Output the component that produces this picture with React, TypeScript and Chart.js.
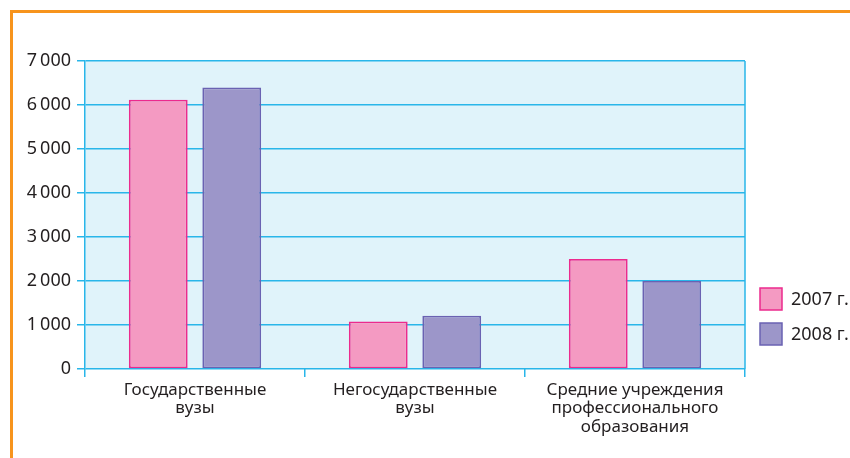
import React, { useEffect, useRef } from "react";
import { Chart, registerables } from "chart.js";

Chart.register(...registerables);

const categories: string[][] = [
  ["Государственные", "вузы"],
  ["Негосударственные", "вузы"],
  ["Средние учреждения", "профессионального", "образования"],
];
const series2007: number[] = [6120, 1080, 2500];
const series2008: number[] = [6400, 1210, 2000];
const seriesLabels: string[] = ["2007 г.", "2008 г."];
const yTicks: number[] = [0, 1000, 2000, 3000, 4000, 5000, 6000, 7000];

const FONT = "'Noto Sans', sans-serif";
const TEXT = "#231f20";
const GRID = "#29b6e9";
const PLOT_BG = "#e0f3fa";

const fmt = (v: number) => {
  if (v < 1000) return String(v);
  const s = String(v);
  return s.slice(0, s.length - 3) + "\u2009" + s.slice(s.length - 3);
};

const bgPlugin = {
  id: "plotBg",
  beforeDraw(chart: any) {
    const { ctx, chartArea } = chart;
    ctx.save();
    ctx.fillStyle = PLOT_BG;
    ctx.fillRect(chartArea.left, chartArea.top, chartArea.right - chartArea.left, chartArea.bottom - chartArea.top);
    ctx.restore();
  },
  afterDraw(chart: any) {
    const { ctx, chartArea } = chart;
    ctx.save();
    ctx.strokeStyle = GRID;
    ctx.lineWidth = 1.5;
    ctx.beginPath();
    ctx.moveTo(chartArea.right, chartArea.top);
    ctx.lineTo(chartArea.right, chartArea.bottom);
    ctx.stroke();
    // legend
    const x0 = chartArea.right + 15;
    let y0 = chartArea.bottom - 81;
    ctx.font = `18px ${FONT}`;
    ctx.textBaseline = "middle";
    ctx.textAlign = "left";
    chart.data.datasets.forEach((ds: any) => {
      ctx.fillStyle = ds.backgroundColor;
      ctx.fillRect(x0, y0, 22, 22);
      ctx.strokeStyle = ds.borderColor;
      ctx.lineWidth = 1.5;
      ctx.strokeRect(x0, y0, 22, 22);
      ctx.fillStyle = TEXT;
      ctx.fillText(ds.label, x0 + 31, y0 + 12);
      y0 += 35;
    });
    ctx.restore();
  },
};

export default function App() {
  const ref = useRef<HTMLCanvasElement>(null);
  useEffect(() => {
    if (!ref.current) return;
    const chart = new Chart(ref.current, {
      type: "bar",
      data: {
        labels: categories,
        datasets: [
          {
            label: seriesLabels[0],
            data: series2007,
            backgroundColor: "#f49ac2",
            borderColor: "#ec2a8d",
            borderWidth: 1.8,
            borderSkipped: false,
            categoryPercentage: 0.668,
            barPercentage: 0.8,
          },
          {
            label: seriesLabels[1],
            data: series2008,
            backgroundColor: "#9c96c9",
            borderColor: "#6a62b2",
            borderWidth: 1.8,
            borderSkipped: false,
            categoryPercentage: 0.668,
            barPercentage: 0.8,
          },
        ],
      },
      options: {
        animation: false,
        responsive: false,
        maintainAspectRatio: false,
        layout: { padding: { left: 0, top: 61, right: 105, bottom: 0 } },
        plugins: { legend: { display: false }, tooltip: { enabled: false } },
        scales: {
          x: {
            offset: true,
            grid: { display: true, drawOnChartArea: false, drawTicks: true, tickLength: 8, color: GRID, lineWidth: 1.5, offset: true },
            border: { display: false },
            ticks: { color: TEXT, font: { family: FONT, size: 17, lineHeight: 1.08 }, padding: 4, maxRotation: 0, autoSkip: false },
            afterFit: (s: any) => { s.height = 89; },
          },
          y: {
            min: 0,
            max: 7000,
            afterBuildTicks: (s: any) => { s.ticks = yTicks.map((v) => ({ value: v })); },
            grid: { color: GRID, lineWidth: 1.5, tickLength: 8 },
            border: { display: true, color: GRID, width: 1.5 },
            ticks: { color: TEXT, font: { family: FONT, size: 18 }, padding: 6, callback: (v: any) => fmt(Number(v)) },
            afterFit: (s: any) => { s.width = 85; },
          },
        },
      },
      plugins: [bgPlugin],
    });
    return () => chart.destroy();
  }, []);
  return (
    <div style={{ position: "absolute", left: 0, top: 0, width: 850, height: 458, overflow: "hidden", background: "#fff" }}>
      <div style={{ position: "absolute", left: 10, top: 10, width: 900, height: 500, borderTop: "3px solid #f7941d", borderLeft: "3px solid #f7941d" }} />
      <canvas ref={ref} width={850} height={458} style={{ position: "absolute", left: 0, top: 0 }} />
    </div>
  );
}
